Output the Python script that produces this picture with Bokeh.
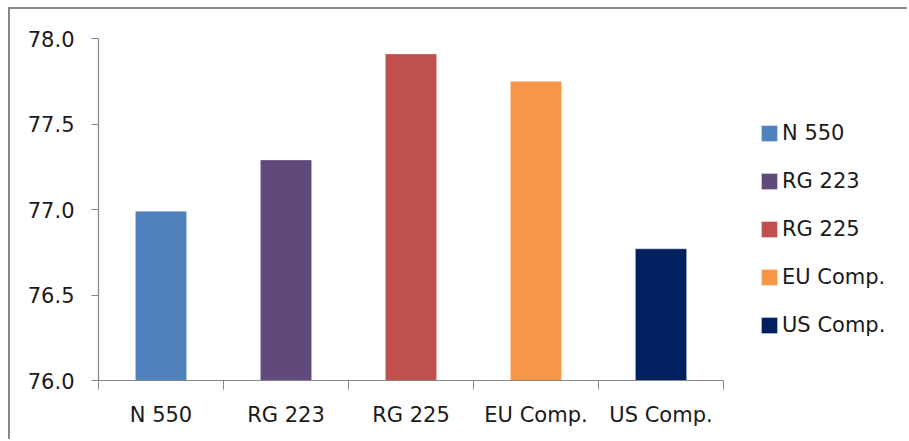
from bokeh.plotting import figure
from bokeh.models import (ColumnDataSource, Range1d, LinearAxis, FixedTicker,
                          PrintfTickFormatter)
from bokeh.embed import file_html
from bokeh.resources import INLINE

# Compound names and measured values
categories = ["N 550", "RG 223", "RG 225", "EU Comp.", "US Comp."]
values = [76.99, 77.29, 77.91, 77.75, 76.77]
colors = ["#4F81BD", "#604A7B", "#C0504D", "#F79646", "#002060"]
y_ticks = [76.0, 76.5, 77.0, 77.5, 78.0]

FONT = "DejaVu Sans"
FSIZE = "21px"
TEXT = "#1a1a1a"
GRAY = "#878787"

n = len(categories)
centers = [i + 0.5 for i in range(n)]          # slot centres on a 0..n axis
edges = list(range(n + 1))                      # slot boundaries

# Layout: the bar area is 625 px wide; the frame runs on to the right edge
# so the legend can sit inside it, and the x axis is bounded to the bars.
W, H = 899, 432
LEFT, TOP, BOTTOM = 88, 29, 61
BAR_AREA = 625
frame_w = W - LEFT
x_end = n * frame_w / BAR_AREA

src = ColumnDataSource(dict(x=centers, cat=categories, val=values, color=colors))

p = figure(width=W, height=H, output_backend="svg", toolbar_location=None,
           x_range=Range1d(0, x_end), y_range=Range1d(y_ticks[0], y_ticks[-1]),
           x_axis_location=None, y_axis_location=None,
           min_border_left=LEFT, min_border_right=0,
           min_border_top=TOP, min_border_bottom=BOTTOM)
p.outline_line_color = None
p.xgrid.visible = False
p.ygrid.visible = False
p.background_fill_color = "white"
p.border_fill_color = "white"
# chart-area frame: grey rule along the top and left
p.styles = {"margin-left": "8px", "margin-top": "7px",
            "border-left": f"2px solid {GRAY}", "border-top": f"2px solid {GRAY}"}

p.vbar(x="x", top="val", bottom=y_ticks[0], width=0.41, source=src,
       fill_color="color", line_color="white", line_alpha=0.35, line_width=1,
       legend_field="cat")

# Value axis
yax = LinearAxis(ticker=FixedTicker(ticks=y_ticks),
                 formatter=PrintfTickFormatter(format="%.1f"))
yax.axis_line_color = GRAY
yax.axis_line_width = 1.2
yax.major_tick_line_color = GRAY
yax.major_tick_out = 7
yax.major_tick_in = 0
yax.minor_tick_line_color = None
yax.major_label_standoff = 17
yax.major_label_text_font = FONT
yax.major_label_text_font_size = FSIZE
yax.major_label_text_color = TEXT
p.add_layout(yax, "left")

# Category axis: tick marks between slots, names under slot centres
edge_ax = LinearAxis(ticker=FixedTicker(ticks=edges), bounds=(0, n))
edge_ax.major_label_overrides = {e: "" for e in edges}
edge_ax.axis_line_color = GRAY
edge_ax.axis_line_width = 1.2
edge_ax.major_tick_line_color = GRAY
edge_ax.major_tick_out = 9
edge_ax.major_tick_in = 0
edge_ax.minor_tick_line_color = None
edge_ax.major_label_standoff = 0
p.add_layout(edge_ax, "below")

name_ax = LinearAxis(ticker=FixedTicker(ticks=centers), bounds=(0, n))
name_ax.major_label_overrides = {c: name for c, name in zip(centers, categories)}
name_ax.axis_line_color = None
name_ax.major_tick_line_color = None
name_ax.major_tick_out = 0
name_ax.major_tick_in = 0
name_ax.minor_tick_line_color = None
name_ax.major_label_standoff = 13
name_ax.major_label_text_font = FONT
name_ax.major_label_text_font_size = FSIZE
name_ax.major_label_text_color = TEXT
p.add_layout(name_ax, "below")

# Legend to the right of the bars (bar swatches are drawn inset by 10%)
leg = p.legend[0]
leg.location = (661, 43)
leg.border_line_color = None
leg.background_fill_alpha = 0
leg.padding = 0
leg.margin = 0
leg.glyph_width = 20
leg.glyph_height = 20
leg.label_height = 24
leg.spacing = 24
leg.label_standoff = 3
leg.label_text_font = FONT
leg.label_text_font_size = FSIZE
leg.label_text_color = TEXT

open("out.html", "w").write(file_html(p, INLINE))
